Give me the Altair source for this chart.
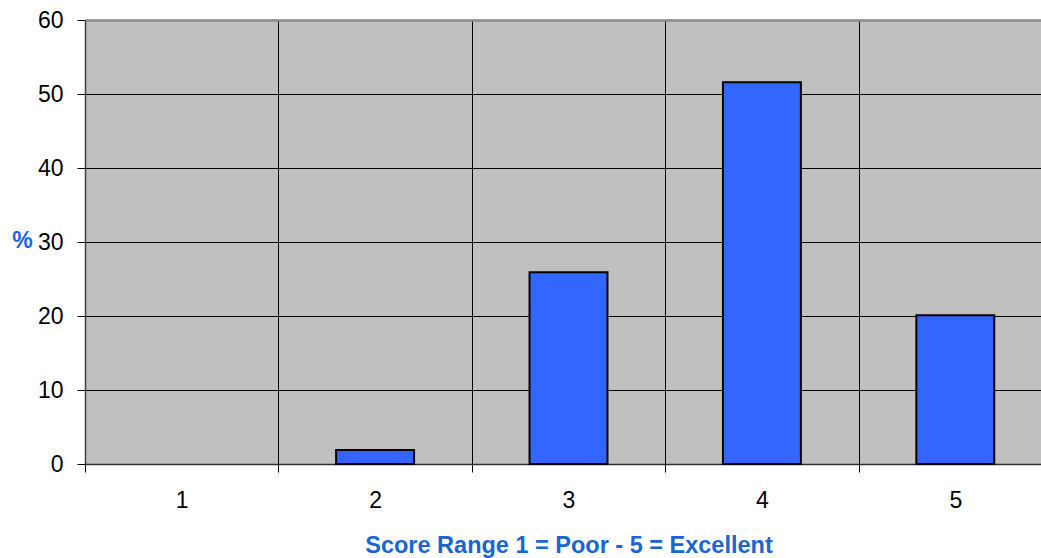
import altair as alt
import pandas as pd

# Share of responses per score
scores = ["1", "2", "3", "4", "5"]
percent = [0.0, 1.9, 25.9, 51.6, 20.1]
y_ticks = [0, 10, 20, 30, 40, 50, 60]

df = pd.DataFrame({"score": scores, "pct": percent})

FONT = "Liberation Sans"
TITLE_BLUE = "#1866d4"

bars = alt.Chart(df).mark_bar(
    color="#3366ff", stroke="black", strokeWidth=2,
    width=alt.RelativeBandSize(0.403),
).encode(
    x=alt.X(
        "score:O",
        sort=scores,
        scale=alt.Scale(paddingInner=0, paddingOuter=0, range=[0, 967]),
        axis=alt.Axis(
            title="Score Range 1 = Poor - 5 = Excellent",
            titleFont=FONT, titleFontSize=23.5, titleFontWeight="bold",
            titleColor=TITLE_BLUE, titleX=483.5, titleY=88,
            titleAlign="center", titleBaseline="alphabetic",
            labelFont=FONT, labelFontSize=23, labelColor="black",
            labelAngle=0, labelBaseline="alphabetic", labelPadding=35,
            tickBand="extent", tickSize=8, tickColor="black",
            grid=True, gridColor="black", gridWidth=1,
            domainColor="#303030", domainWidth=1.5,
        ),
    ),
    y=alt.Y(
        "pct:Q",
        scale=alt.Scale(domain=[0, 60], nice=False),
        axis=alt.Axis(
            values=y_ticks,
            title="%", titleAngle=0, titleX=-63, titleY=220.5,
            titleAlign="center", titleBaseline="middle",
            titleFont=FONT, titleFontSize=23, titleFontWeight="bold",
            titleColor=TITLE_BLUE,
            labelFont=FONT, labelFontSize=23, labelColor="black",
            labelPadding=14, tickSize=8, tickColor="black",
            grid=True,
            gridColor=alt.condition("datum.value === 60", alt.value("#8a8a8a"), alt.value("black")),
            gridWidth=alt.condition("datum.value === 60", alt.value(2.5), alt.value(1)),
            domainColor="#404040", domainWidth=1.5,
        ),
    ),
    # a zero share draws no bar at all
    opacity=alt.condition("datum.pct > 0", alt.value(1), alt.value(0)),
)

chart = bars.properties(
    width=956,
    height=444,
    background="white",
    autosize=alt.AutoSizeParams(type="none"),
    padding={"left": 85, "top": 20, "right": 0, "bottom": 94},
).configure_view(
    fill="#c0c0c0", stroke=None
)

chart.save("out.html", embed_options={"renderer": "svg", "actions": False})
